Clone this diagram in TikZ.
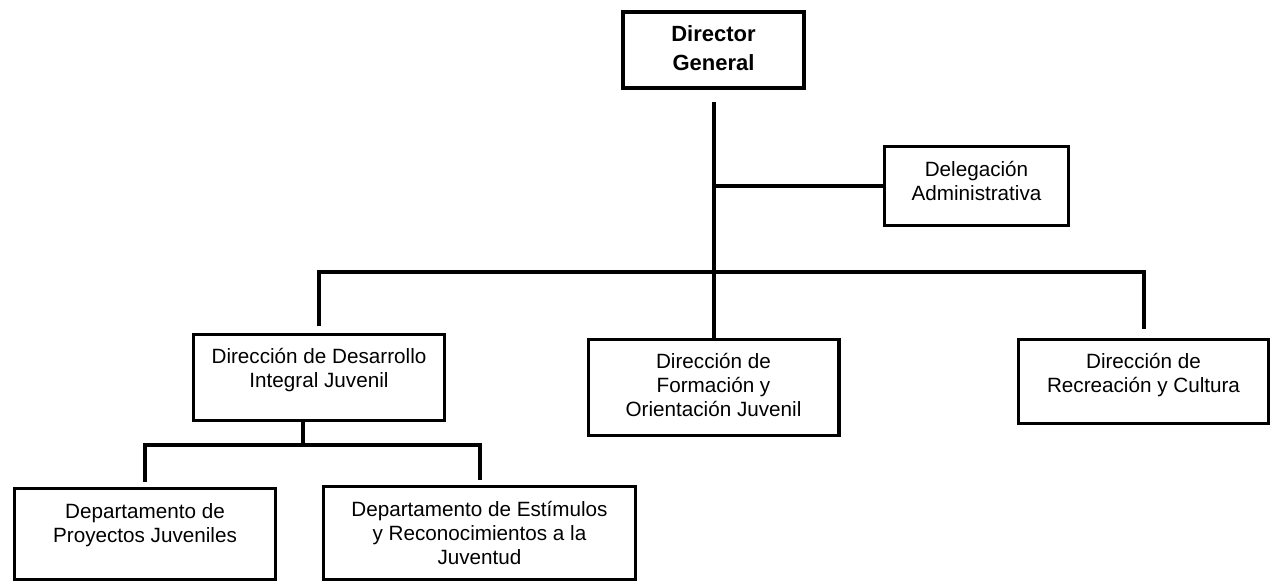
\documentclass[tikz,border=0pt]{standalone}
\usepackage{fontspec}
\setmainfont{Liberation Sans}
\usepackage{tikz}
\usetikzlibrary{positioning, calc}
\tikzstyle{Link} = [
    line width = 3pt
]
\newcommand{\orgtext}[3]{\parbox[c][#2][t]{#1}{\centering\rule{0pt}{22pt}#3}}

\begin{document}
\begin{tikzpicture}[
x = 0.75pt, y = -0.75pt,
box/.style={
    draw,
    line width = 2.5pt,
    inner sep = 0pt,
    font = \fontsize{15.5pt}{18pt}\selectfont
    }
]
\useasboundingbox (0,0) rectangle (1273,583);

\node [box, line width = 3pt, font = \fontsize{16.5pt}{21.75pt}\selectfont\bfseries] (1) at (713.5,50) {\orgtext{135.75pt}{57pt}{Director\\General}};
\node [box] (2) at (976.5,186) {\orgtext{137.8pt}{59pt}{Delegación\\Administrativa}};
\node [box] (3) at (319,377.5) {\orgtext{188pt}{64.3pt}{Dirección de Desarrollo\\Integral Juvenil}};
\node [box] (4) at (713.5,387.5) {\orgtext{188pt}{71.8pt}{Dirección de\\Formación y\\Orientación Juvenil}};
\node [box] (5) at (1143.5,381.5) {\orgtext{187.3pt}{62.8pt}{Dirección de\\Recreación y Cultura}};
\node [box] (6) at (145,534) {\orgtext{195.5pt}{68pt}{Departamento de\\Proyectos Juveniles}};
\node [box] (7) at (479.5,533) {\orgtext{233.8pt}{69.5pt}{Departamento de Estímulos\\y Reconocimientos a la\\Juventud}};

\coordinate (top) at (713.5,272);
\coordinate (sub) at (303,445);

\draw[Link, shorten <= 9pt] (1.south) -- (top);
\draw[Link] (2.west) -- (2.west -| top);

\draw[Link, shorten <= 5pt, shorten >= 7pt] (3.north) |- (top) -| (5.north);
\draw[Link] (top) -- (4.north);

\draw[Link] (3.south -| sub) -- (sub);
\draw[Link, shorten <= 4pt, shorten >= 3.5pt] (6.north) |- (sub) -| (7.north);

\end{tikzpicture}
\end{document}
